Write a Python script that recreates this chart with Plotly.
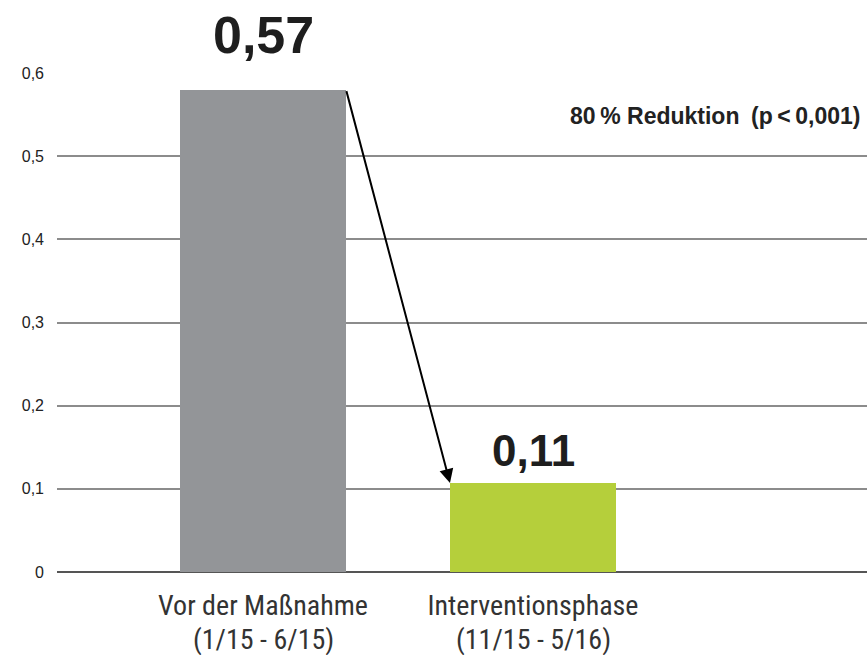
import plotly.graph_objects as go

# ---- data ----
categories = ["Vor der Maßnahme", "Interventionsphase"]
periods = ["(1/15 - 6/15)", "(11/15 - 5/16)"]
values = [0.58, 0.107]
value_labels = ["0,57", "0,11"]
y_ticks = [0, 0.1, 0.2, 0.3, 0.4, 0.5, 0.6]
y_ticktext = ["0", "0,1", "0,2", "0,3", "0,4", "0,5", "0,6"]
note_text = "80\u2009% Reduktion\u2002(p\u2009<\u20090,001)"

# ---- styles ----
bar_colors = ["#939598", "#b5cf3b"]
bar_width = 0.615
label_sizes = [52, 44]
label_shifts = [55, 33]
narrow = "Liberation Sans Narrow, Arial Narrow, Roboto Condensed, sans-serif"
regular = "Liberation Sans, Arial, sans-serif"
bold = "Liberation Sans, Arial, sans-serif"

x_idx = list(range(len(categories)))

fig = go.Figure()
fig.add_trace(go.Bar(
    x=x_idx, y=values, width=bar_width,
    marker=dict(color=bar_colors, line=dict(width=0)),
    hoverinfo="skip", showlegend=False,
))

annotations = []
for i, (v, lab) in enumerate(zip(values, value_labels)):
    annotations.append(dict(
        x=i, y=v, xref="x", yref="y", text=f"<b>{lab}</b>", showarrow=False,
        yanchor="middle", yshift=label_shifts[i],
        font=dict(family=bold, size=label_sizes[i], color="#1e1e1e"),
    ))
for i, p in enumerate(periods):
    annotations.append(dict(
        x=i, y=0, xref="paper" if False else "x", yref="paper", text=p, showarrow=False,
        yanchor="middle", yshift=-67,
        font=dict(family=narrow, size=28, color="#333333"),
    ))
# arrow from top-right of first bar to top-left of second bar
annotations.append(dict(
    x=x_idx[1] - bar_width / 2, y=values[1], xref="x", yref="y",
    ax=x_idx[0] + bar_width / 2, ay=values[0], axref="x", ayref="y",
    text="", showarrow=True, arrowhead=2, arrowsize=1.4, arrowwidth=2,
    arrowcolor="#000000", standoff=0,
))
annotations.append(dict(
    x=1, y=0.548, xref="paper", yref="y", xanchor="right", yanchor="middle",
    xshift=-4, text=f"<b>{note_text}</b>", showarrow=False,
    font=dict(family=bold, size=23, color="#222222"),
))

fig.update_layout(
    width=867, height=655,
    margin=dict(l=57, r=0, t=73, b=83),
    plot_bgcolor="white", paper_bgcolor="white",
    bargap=0, annotations=annotations,
    xaxis=dict(
        range=[-0.763, 2.237], tickvals=x_idx, ticktext=categories,
        showgrid=False, zeroline=False, showline=False, ticks="",
        tickfont=dict(family=narrow, size=28, color="#333333"),
        ticklabelstandoff=14,
    ),
    yaxis=dict(
        range=[0, 0.6], tickvals=y_ticks, ticktext=y_ticktext,
        showgrid=True, gridcolor="#8c8c8c", gridwidth=1.5,
        zeroline=True, zerolinecolor="#555555", zerolinewidth=1.5,
        showline=False, ticks="",
        tickfont=dict(family=regular, size=16, color="#222222"),
        ticklabelstandoff=12,
    ),
)

fig.write_html("out.html", config={"displayModeBar": False},
               post_script="document.body.style.margin='0';")
